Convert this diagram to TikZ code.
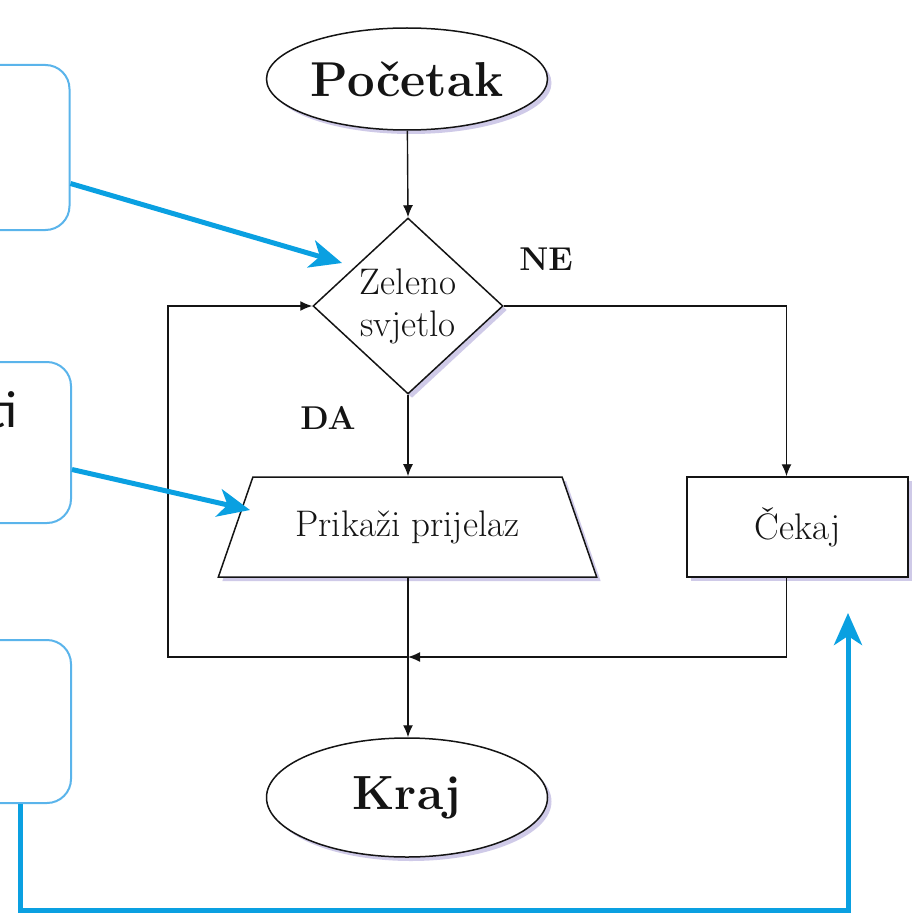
\documentclass[tikz,border=0pt]{standalone}
\usepackage{fontspec}
\newfontfamily\tisans{Carlito}
\usetikzlibrary{shapes.geometric,arrows.meta,shadows,calc}
\definecolor{cyanblue}{RGB}{10,160,225}
\definecolor{boxblue}{RGB}{90,180,235}
\definecolor{ink}{RGB}{20,20,20}
\definecolor{shade}{RGB}{160,150,210}
\tikzset{
  shp/.style={draw=ink,line width=1.5pt,fill=white,inner sep=0pt,text=ink,
    drop shadow={shadow xshift=4pt,shadow yshift=-4pt,fill=shade,opacity=0.5}},
  term/.style={shp,ellipse,minimum width=281pt,font=\fontsize{49}{52}\selectfont\bfseries},
  flow/.style={draw=ink,line width=1.4pt,-{Latex[length=12pt,width=10pt]}},
  sidebox/.style={draw=boxblue,line width=2pt,rounded corners=24pt,fill=white},
  hint/.style={draw=cyanblue,line width=5pt,-{Stealth[length=32pt,width=28pt,inset=9pt]}},
  lbl/.style={text=ink,font=\fontsize{37}{42}\selectfont},
  yn/.style={text=ink,font=\fontsize{33}{36}\selectfont\bfseries},
}
\begin{document}
\begin{tikzpicture}[x=1pt,y=-1pt]
\useasboundingbox (0,0) rectangle (912,915);
% left hint boxes
\node[sidebox,minimum width=111pt,minimum height=165pt] (b1) at (14,147.5) {};
\node[sidebox,minimum width=111pt,minimum height=161pt] (b2) at (15.5,442.5) {};
\node[sidebox,minimum width=111pt,minimum height=163pt] (b3) at (15.5,721.5) {};
\node[anchor=base east,inner sep=0pt,text=ink,font=\tisans\fontsize{52}{56}\selectfont] (ti) at (18,427) {ti};
% flowchart
\node[term,minimum height=102pt] (start) at (407,79) {Početak};
\node[shp,diamond,minimum width=190pt,minimum height=176pt,align=center,lbl] (d) at (408,306) {Zeleno\\svjetlo};
\node[shp,trapezium,trapezium stretches=true,trapezium left angle=53,trapezium right angle=53,
      minimum width=379pt,minimum height=100pt,lbl] (t) at (407.5,527) {Prikaži prijelaz};
\node[shp,rectangle,minimum width=221pt,minimum height=100pt,lbl] (c) at (797.5,527) {Čekaj};
\node[term,minimum height=119pt,font=\fontsize{48}{52}\selectfont\bfseries] (end) at (407,797.5) {Kraj};
\node[yn] (ne) at (546,259) {NE};
\node[yn] (da) at (328,418) {DA};
\coordinate (j) at (408,657);
\draw[flow] (start) -- (d.north);
\draw[flow] (d.south) -- (d.south |- t.north);
\draw[flow] (d.east) -| ([xshift=-11pt]c.north);
\draw[flow] (t.south -| d.south) -- (end.north -| d.south);
\draw[flow] ([xshift=-11pt]c.south) |- (j);
\draw[flow] (j) -- ++(-240,0) |- (d.west);
% blue hint arrows
\coordinate (h1) at (342,263);
\coordinate (h2) at (250,510);
\coordinate (h3) at (848,613);
\draw[hint] ([yshift=-36pt]b1.east) -- (h1);
\draw[hint] ([yshift=-27pt]b2.east) -- (h2);
\draw[hint] ([xshift=4.5pt]b3.south) -- ++(0,106) -| (h3);
\end{tikzpicture}
\end{document}
